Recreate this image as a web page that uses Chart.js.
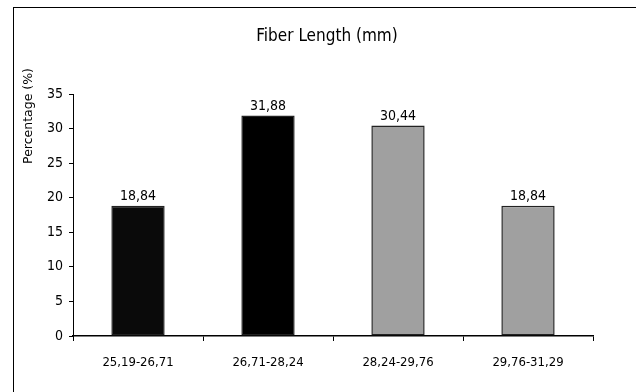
<!DOCTYPE html>
<html>
<head>
<meta charset="utf-8">
<script src="https://cdn.jsdelivr.net/npm/chart.js@4.4.0/dist/chart.umd.min.js"></script>
<style>
  body { margin: 0; background: #fff; }
  #wrap { position: relative; width: 636px; height: 392px; }
  #frame { position: absolute; left: 13px; top: 7px; width: 700px; height: 500px;
           border-left: 1.5px solid #000; border-top: 1.5px solid #000; }
  canvas { position: absolute; left: 0; top: 0; }
</style>
</head>
<body>
<div id="wrap">
  <div id="frame"></div>
  <canvas id="fiberChart" width="636" height="392"></canvas>
</div>
<script>
// dados
const categories = ['25,19-26,71', '26,71-28,24', '28,24-29,76', '29,76-31,29'];
const percentages = [18.84, 31.88, 30.44, 18.84];
const barColors = ['#0a0a0a', '#000000', '#a0a0a0', '#a0a0a0'];
const yTicks = [0, 5, 10, 15, 20, 25, 30, 35];

const narrow = '"Liberation Sans Narrow", "DejaVu Sans Condensed", sans-serif';

// rótulos em cima das barras, título e título do eixo y
const extraText = {
  id: 'extraText',
  afterDatasetsDraw(chart) {
    const ctx = chart.ctx;
    ctx.save();
    ctx.fillStyle = '#000';
    ctx.textAlign = 'center';
    ctx.textBaseline = 'bottom';
    ctx.font = '14px ' + narrow;
    chart.getDatasetMeta(0).data.forEach((bar, i) => {
      ctx.fillText(percentages[i].toFixed(2).replace('.', ','), bar.x, bar.y - 2);
    });

    ctx.font = '17px ' + narrow;
    ctx.textBaseline = 'middle';
    ctx.fillText('Fiber Length (mm)', 327, 37);

    ctx.translate(29, 116);
    ctx.rotate(-Math.PI / 2);
    ctx.font = '12.5px "DejaVu Sans", sans-serif';
    ctx.fillText('Percentage (%)', 0, 0);
    ctx.restore();
  }
};

const ctxFiber = document.getElementById('fiberChart');
new Chart(ctxFiber, {
  type: 'bar',
  data: {
    labels: categories,
    datasets: [{
      label: 'Percentage',
      data: percentages,
      backgroundColor: barColors,
      borderColor: '#222',
      borderWidth: 1.5,
      borderSkipped: false,
      barPercentage: 0.41,
      categoryPercentage: 1.0
    }]
  },
  options: {
    responsive: false,
    animation: false,
    layout: { padding: { left: 0, top: 94, right: 43, bottom: 0 } },
    plugins: {
      legend: { display: false },
      tooltip: { enabled: false },
      title: { display: false }
    },
    scales: {
      x: {
        afterFit(scale) { scale.height = 56; },
        grid: { drawOnChartArea: false, drawTicks: true, tickLength: 5, tickColor: '#000', offset: true },
        border: { color: '#000', width: 1.5 },
        ticks: { color: '#000', padding: 14, font: { family: narrow, size: 13 } }
      },
      y: {
        min: 0,
        max: 35,
        afterFit(scale) { scale.width = 73; },
        afterBuildTicks(scale) { scale.ticks = yTicks.map(v => ({ value: v })); },
        grid: { drawOnChartArea: false, drawTicks: true, tickLength: 4, tickColor: '#000' },
        border: { color: '#000', width: 1 },
        ticks: { color: '#000', padding: 6, font: { family: narrow, size: 14 } }
      }
    }
  },
  plugins: [extraText]
});
</script>
</body>
</html>
